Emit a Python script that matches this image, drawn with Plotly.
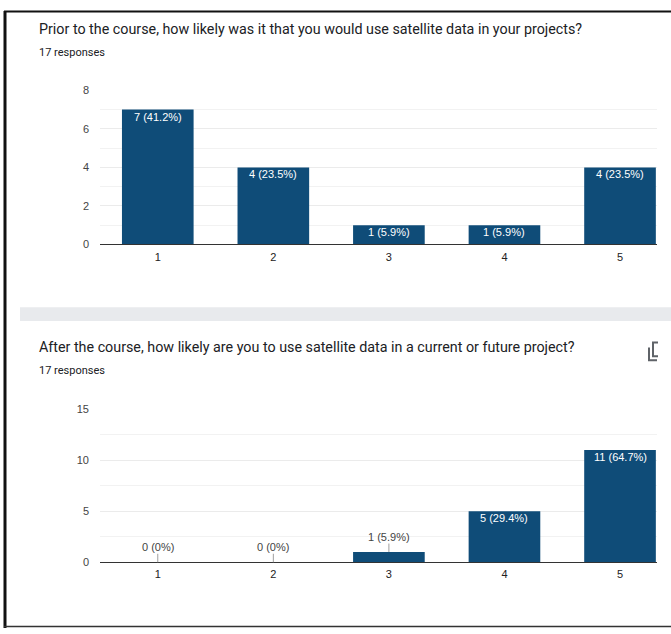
import plotly.graph_objects as go

# ---- data ----
categories = [1, 2, 3, 4, 5]
tick_labels = ["1", "2", "3", "4", "5"]
before_counts = [7, 4, 1, 1, 4]
after_counts = [0, 0, 1, 5, 11]
responses = 17
title_before = "Prior to the course, how likely was it that you would use satellite data in your projects?"
title_after = "After the course, how likely are you to use satellite data in a current or future project?"
resp_label = "17 responses"

W, H = 671, 634
def px(x):
    return x / W
def py(y):
    return 1 - y / H

def lab(v):
    p = round(v / responses * 100, 1)
    return f"{v} ({p:g}%)"

BAR = "#0f4c78"
FONT = "Arial, Liberation Sans, sans-serif"

fig = go.Figure()
fig.add_trace(go.Bar(
    x=categories, y=before_counts, xaxis="x", yaxis="y",
    width=0.62, marker=dict(color=BAR, line=dict(width=0)),
    hoverinfo="skip", showlegend=False,
))
fig.add_trace(go.Bar(
    x=categories, y=after_counts, xaxis="x2", yaxis="y2",
    width=0.62, marker=dict(color=BAR, line=dict(width=0)),
    hoverinfo="skip", showlegend=False,
))

annotations = []
# bar labels: inside top of the bar when there is room, otherwise above with a leader line
for xa, ya, counts, ymax in [("x", "y", before_counts, 8), ("x2", "y2", after_counts, 15)]:
    for c, v in zip(categories, counts):
        if v / ymax >= 0.1:
            annotations.append(dict(
                x=c, y=v, xref=xa, yref=ya, text=lab(v), showarrow=False,
                yanchor="top", xanchor="center", yshift=0, borderpad=0,
                font=dict(size=11, color="white", family=FONT),
            ))
        else:
            annotations.append(dict(
                x=c, y=v, xref=xa, yref=ya, text=lab(v),
                showarrow=True, arrowhead=0, arrowwidth=1, arrowcolor="#9e9e9e",
                ax=0, ay=-15, font=dict(size=11, color="#444444", family=FONT),
                borderpad=0,
            ))

# titles
for txt, y, size in [
    (title_before, 23, 14.3),
    (resp_label, 47, 11),
    (title_after, 348, 14.3),
    (resp_label, 372, 11),
]:
    annotations.append(dict(
        x=px(37), y=py(y), xref="paper", yref="paper", text=txt,
        showarrow=False, xanchor="left", yanchor="middle",
        font=dict(size=size, color="#202124", family="Roboto, Arial, sans-serif"),
    ))

xcommon = dict(
    range=[0.5, 5.32], tickvals=categories, ticktext=tick_labels,
    showgrid=False, zeroline=False, showline=True, linecolor="#333333", linewidth=1,
    ticks="", tickfont=dict(size=11, color="#222222", family=FONT),
    ticklabelstandoff=2, fixedrange=True,
)
ycommon = dict(
    showgrid=True, gridcolor="#ebebeb", gridwidth=1, zeroline=False, ticks="",
    tickfont=dict(size=11, color="#444444", family=FONT),
    ticklabelstandoff=10, fixedrange=True,
)

fig.update_layout(
    width=W, height=H, autosize=False,
    margin=dict(l=0, r=0, t=0, b=0),
    paper_bgcolor="white", plot_bgcolor="white",
    xaxis=dict(domain=[px(100), px(657)], anchor="y", **xcommon),
    yaxis=dict(domain=[py(243), py(86)], anchor="x", range=[0, 8], tickvals=[0, 2, 4, 6, 8],
               minor=dict(dtick=1, showgrid=True, gridcolor="#f2f2f2"), **ycommon),
    xaxis2=dict(domain=[px(100), px(657)], anchor="y2", **xcommon),
    yaxis2=dict(domain=[py(567), py(411)], anchor="x2", range=[0, 15], tickvals=[0, 5, 10, 15],
                minor=dict(dtick=2.5, showgrid=True, gridcolor="#f2f2f2"), **ycommon),
    annotations=annotations,
    shapes=[
        dict(type="rect", xref="paper", yref="paper", x0=px(20), x1=1, y0=py(321), y1=py(307),
             fillcolor="#e8eaed", line=dict(width=0), layer="below"),
        dict(type="line", xref="paper", yref="paper", x0=px(5), x1=px(5), y0=0, y1=py(5),
             line=dict(color="#111111", width=3)),
        dict(type="line", xref="paper", yref="paper", x0=px(4), x1=1, y0=py(5.5), y1=py(5.5),
             line=dict(color="#111111", width=2)),
        dict(type="line", xref="paper", yref="paper", x0=px(4), x1=1, y0=py(632.5), y1=py(632.5),
             line=dict(color="#333333", width=1.5)),
        dict(type="path", xref="paper", yref="paper",
             path=f"M {px(649)},{py(348)} L {px(649)},{py(361)} L {px(657)},{py(361)}",
             line=dict(color="#5f6368", width=2)),
        dict(type="path", xref="paper", yref="paper",
             path=f"M {px(658)},{py(343)} L {px(653)},{py(343)} L {px(653)},{py(357)} L {px(658)},{py(357)}",
             line=dict(color="#5f6368", width=2)),
    ],
)

fig.write_html("out.html", config={"displayModeBar": False})
